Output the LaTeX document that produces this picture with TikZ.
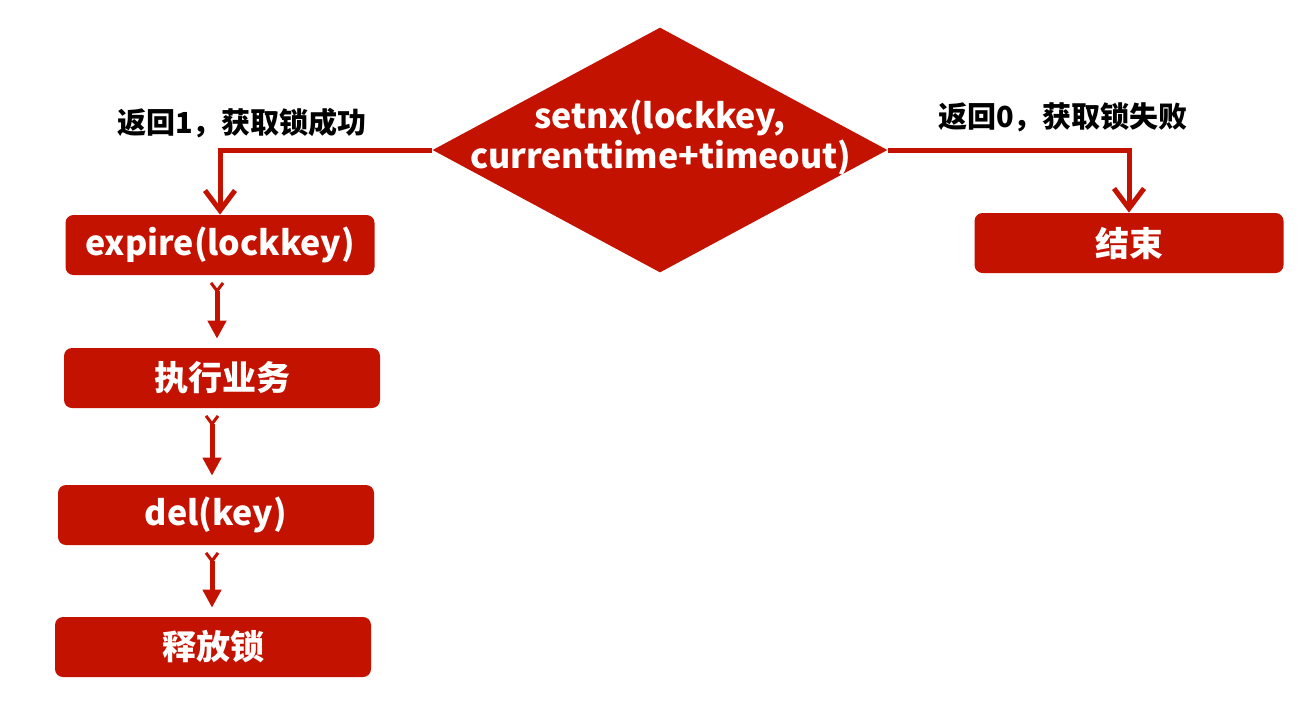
\documentclass[tikz,border=0pt]{standalone}
\usepackage{fontspec}
\setmainfont{Noto Sans CJK SC}
\usetikzlibrary{arrows.meta, positioning, shapes.geometric}
\definecolor{lockred}{RGB}{196,18,0}
\tikzset{
  lockbox/.style={
    rectangle,
    rounded corners=4pt,
    fill=lockred,
    text=white,
    align=center,
    minimum width=158pt,
    minimum height=30pt,
    inner sep=0pt,
    font=\fontsize{17}{20}\selectfont\bfseries
  },
  lockdecision/.style={
    diamond,
    aspect=1.857,
    fill=lockred,
    text=white,
    align=center,
    text width=190pt,
    text height=10pt,
    text depth=32pt,
    inner sep=-7.09pt,
    minimum width=227.5pt,
    minimum height=122.5pt,
    font=\fontsize{17}{20}\selectfont\bfseries
  },
  locklabel/.style={
    text=black,
    font=\fontsize{14.5}{16}\selectfont\bfseries
  },
  lockbranch/.style={-{Straight Barb[length=10pt, width=15pt, line width=2.5pt]}, line width=2.5pt, draw=lockred},
  lockarrow/.style={{Straight Barb[reversed, length=4pt, width=6pt, line width=1.5pt]}-{Triangle[length=9pt, width=9pt]}, line width=2.5pt, draw=lockred, shorten <=3pt, shorten >=4.5pt}
}
\begin{document}
\begin{tikzpicture}[x=0.5pt, y=-0.5pt]
  \useasboundingbox[fill=white] (0,0) rectangle (1316,725);

  \node[lockdecision] (setnx) at (660,150) {setnx(lockkey,\\currenttime+timeout)};
  \node[lockbox, minimum width=154.5pt] (expire) at (220,245) {expire(lockkey)};
  \node[lockbox] (work) at (222,378) {执行业务};
  \node[lockbox] (del) at (216,515) {del(key)};
  \node[lockbox] (release) at (213,647) {释放锁};
  \node[lockbox, minimum width=154.5pt] (finish) at (1129,243) {结束};

  \node[locklabel] (ok) at (242,123) {返回1，获取锁成功};
  \node[locklabel] (fail) at (1063,117) {返回0，获取锁失败};

  \draw[lockbranch] (setnx.west) -| (expire.north);
  \draw[lockbranch] (setnx.east) -| (finish.north);
  \draw[lockarrow] (expire.south -| 217,0) -- (work.north -| 217,0);
  \draw[lockarrow] (work.south -| 212,0) -- (del.north -| 212,0);
  \draw[lockarrow] (del.south -| 212,0) -- (release.north -| 212,0);
\end{tikzpicture}
\end{document}
